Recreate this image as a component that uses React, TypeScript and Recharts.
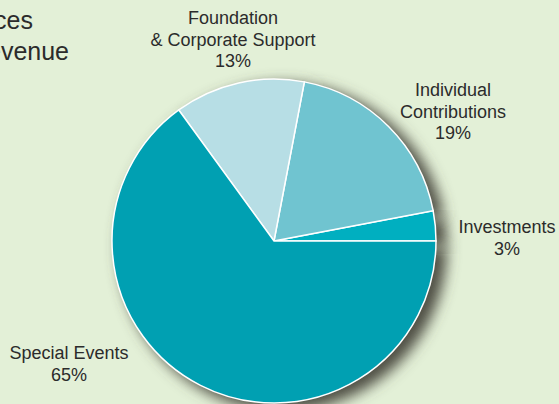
import { PieChart, Pie, Cell } from "recharts"

const categories = ["Investments", "Individual Contributions", "Foundation & Corporate Support", "Special Events"]
const shares = [3, 19, 13, 65]
const labelLines = [["Investments"], ["Individual", "Contributions"], ["Foundation", "& Corporate Support"], ["Special Events"]]
const titleLines = ["Sources", "of Revenue"]

const colors = ["#00afc0", "#70c4d0", "#b7dee5", "#00a0b2"]
// where each label block sits (centre x, first baseline y)
const labelSpots = [
  { x: 507, y: 233 },
  { x: 453, y: 96 },
  { x: 233, y: 24 },
  { x: 69, y: 359 },
]

const data = categories.map((name, i) => ({ name, value: shares[i] }))

function renderLabel({ index }: { index: number }) {
  const spot = labelSpots[index]
  const lines = [...labelLines[index], `${shares[index]}%`]
  return (
    <text
      key={`lbl-${index}`}
      x={spot.x}
      y={spot.y}
      textAnchor="middle"
      fill="#2b2b2b"
      fontSize={18}
      fontFamily="'Liberation Sans', Arial, sans-serif"
    >
      {lines.map((l, j) => (
        <tspan key={j} x={spot.x} y={spot.y + j * 21.5}>
          {l}
        </tspan>
      ))}
    </text>
  )
}

export default function App() {
  return (
    <div style={{ position: "fixed", left: 0, top: 0, width: 559, height: 404, background: "#e3f0d7", overflow: "hidden" }}>
      <PieChart width={559} height={404} margin={{ top: 0, right: 0, bottom: 0, left: 0 }}>
        <defs>
          <filter id="pieShadow" x="-20%" y="-20%" width="140%" height="140%">
            <feGaussianBlur stdDeviation="7" />
          </filter>
        </defs>
        <Pie
          data={data}
          dataKey="value"
          cx={283}
          cy={247}
          outerRadius={164}
          startAngle={0}
          endAngle={360}
          stroke="none"
          isAnimationActive={false}
          legendType="none"
        >
          {data.map((d) => (
            <Cell key={`sh-${d.name}`} fill="#4f4f45" filter="url(#pieShadow)" />
          ))}
        </Pie>
        <Pie
          data={data}
          dataKey="value"
          cx={274}
          cy={241}
          outerRadius={162}
          startAngle={0}
          endAngle={360}
          stroke="#ffffff"
          strokeWidth={1.5}
          label={renderLabel}
          labelLine={false}
          isAnimationActive={false}
        >
          {data.map((d, i) => (
            <Cell key={d.name} fill={colors[i]} />
          ))}
        </Pie>
        <text fontSize={25} fill="#2b2b2b" fontFamily="'Liberation Sans', Arial, sans-serif">
          <tspan x={33} y={29} textAnchor="end">{titleLines[0]}</tspan>
          <tspan x={69} y={60} textAnchor="end">{titleLines[1]}</tspan>
        </text>
      </PieChart>
    </div>
  )
}
